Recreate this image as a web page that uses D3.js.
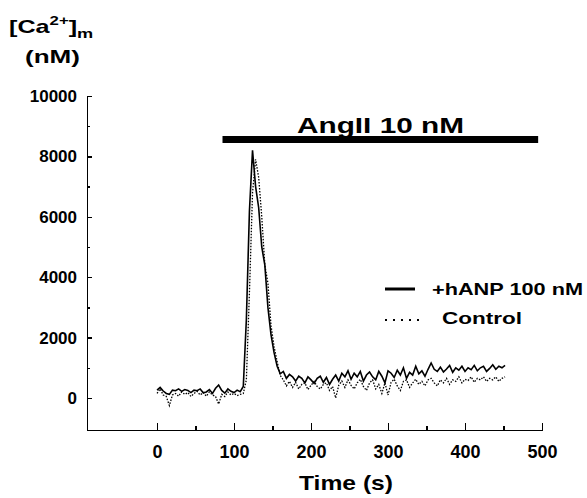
<html>
<head>
<title>Mitochondrial Ca2+ response to AngII</title>
<style>
body{
    margin: 0;
    background-color: #ffffff;
}
#chart{
    display: block;
}
.axis path, .axis line{
    stroke: #000;
    stroke-width: 1.4;
    shape-rendering: crispEdges;
}
.axis text{
    font-family: "Liberation Sans", Arial, sans-serif;
    font-weight: bold;
    font-size: 17px;
    fill: #000;
}
.xAxis text{
    font-size: 18px;
}
.lbl{
    font-family: "Liberation Sans", Arial, sans-serif;
    font-weight: bold;
    fill: #000;
}
</style>
</head>
<body>
<svg id="chart"></svg>
<script src="https://cdnjs.cloudflare.com/ajax/libs/d3/7.8.5/d3.min.js"></script>
<script>
// sample times (s)
var time = [0,4,8,12,16,20,24,28,32,36,40,44,48,52,56,60,64,68,72,76,80,84,88,92,96,100,
    104,108,112,116,120,124,128,132,136,140,144,148,152,156,160,164,168,172,176,180,184,188,192,196,200,
    204,208,212,216,220,224,228,232,236,240,244,248,252,256,260,264,268,272,276,280,284,288,292,296,300,
    304,308,312,316,320,324,328,332,336,340,344,348,352,356,360,364,368,372,376,380,384,388,392,396,400,
    404,408,412,416,420,424,428,432,436,440,444,448,452];

// +hANP 100 nM (nM)
var hanp = [260,350,230,150,120,260,240,300,220,280,250,180,260,240,300,170,200,280,150,320,430,250,160,300,220,180,
    260,210,380,2600,6200,8200,7000,6300,5000,4400,3000,2100,1500,1050,800,880,650,780,700,560,720,650,500,700,600,
    480,650,720,520,680,450,620,760,560,820,700,900,620,820,700,880,560,760,860,700,600,880,720,500,900,
    820,680,920,760,1000,650,850,760,1050,800,900,720,950,1160,950,880,1020,860,960,1080,850,1000,920,1050,880,
    1000,940,1080,900,1000,1050,880,980,1100,950,1050,1000,1080];

// Control (nM)
var control = [150,300,100,50,-250,100,150,60,200,120,180,50,150,220,100,180,60,200,100,50,-200,120,50,200,100,150,
    80,120,150,600,3500,6800,7900,7300,6000,4400,3800,2400,1700,1200,750,600,400,550,350,520,300,450,500,280,420,
    550,380,300,450,500,250,380,0,420,560,350,600,420,300,500,620,380,250,500,600,300,450,150,500,100,
    520,620,400,250,550,600,350,500,620,450,550,400,600,650,500,400,600,500,650,450,600,550,700,500,620,
    580,700,520,650,600,700,550,650,600,700,550,650,700];

var yMajor = [0,2000,4000,6000,8000,10000];
var yMinor = [1000,3000,5000,7000,9000];
var xMajor = [0,100,200,300,400,500];
var xMinor = [50,150,250,350,450];
var stimulus = [85,495];

var width = 587, height = 498;

var svg = d3.select("#chart")
    .attr("width", width)
    .attr("height", height);

var xscale = d3.scaleLinear().domain([-91, 500]).range([87, 542]);
var yscale = d3.scaleLinear().domain([-1060, 10000]).range([430, 96]);

// minor ticks first, then major ticks with labels
svg.append("g")
    .attr("class", "axis")
    .attr("transform", "translate(0,430)")
    .call(d3.axisBottom(xscale).tickValues(xMinor).tickSize(-4).tickFormat(""))
    .select(".domain").remove();
svg.append("g")
    .attr("class", "axis xAxis")
    .attr("transform", "translate(0,430)")
    .call(d3.axisBottom(xscale).tickValues(xMajor).tickSize(-7).tickSizeOuter(0).tickPadding(15).tickFormat(d3.format("d")));

svg.append("g")
    .attr("class", "axis")
    .attr("transform", "translate(87,0)")
    .call(d3.axisLeft(yscale).tickValues(yMinor).tickSize(-3).tickFormat(""))
    .select(".domain").remove();
svg.append("g")
    .attr("class", "axis")
    .attr("transform", "translate(87,0)")
    .call(d3.axisLeft(yscale).tickValues(yMajor).tickSize(-5).tickSizeOuter(0).tickPadding(10).tickFormat(d3.format("d")));

var line = d3.line()
    .x(function(d, i){ return xscale(time[i]); })
    .y(function(d){ return yscale(d); });

svg.append("path")
    .datum(control)
    .attr("d", line)
    .attr("fill", "none")
    .attr("stroke", "#000")
    .attr("stroke-width", 1.3)
    .attr("stroke-dasharray", "1.5,1.5");

svg.append("path")
    .datum(hanp)
    .attr("d", line)
    .attr("fill", "none")
    .attr("stroke", "#000")
    .attr("stroke-width", 1.6);

// AngII application bar
svg.append("rect")
    .attr("x", xscale(stimulus[0]))
    .attr("y", 136)
    .attr("width", xscale(stimulus[1]) - xscale(stimulus[0]))
    .attr("height", 7)
    .attr("fill", "#000");
svg.append("text")
    .attr("class", "lbl")
    .attr("x", 297)
    .attr("y", 133)
    .attr("font-size", "22px")
    .attr("textLength", 167)
    .attr("lengthAdjust", "spacingAndGlyphs")
    .text("AngII 10 nM");

// legend
svg.append("line")
    .attr("x1", 385).attr("x2", 415)
    .attr("y1", 289).attr("y2", 289)
    .attr("stroke", "#000")
    .attr("stroke-width", 3);
svg.append("text")
    .attr("class", "lbl")
    .attr("x", 432).attr("y", 295)
    .attr("font-size", "17px")
    .attr("textLength", 151)
    .attr("lengthAdjust", "spacingAndGlyphs")
    .text("+hANP 100 nM");
svg.append("line")
    .attr("x1", 385).attr("x2", 419)
    .attr("y1", 320).attr("y2", 320)
    .attr("stroke", "#000")
    .attr("stroke-width", 2)
    .attr("stroke-dasharray", "2,6");
svg.append("text")
    .attr("class", "lbl")
    .attr("x", 442).attr("y", 324)
    .attr("font-size", "17px")
    .attr("textLength", 80)
    .attr("lengthAdjust", "spacingAndGlyphs")
    .text("Control");

// axis titles
svg.append("text")
    .attr("class", "lbl")
    .attr("x", 346).attr("y", 490)
    .attr("text-anchor", "middle")
    .attr("font-size", "21px")
    .attr("textLength", 94)
    .attr("lengthAdjust", "spacingAndGlyphs")
    .text("Time (s)");

var yt = svg.append("text")
    .attr("class", "lbl")
    .attr("transform", "translate(9,33) scale(1.4,1)")
    .attr("font-size", "18px");
yt.append("tspan").text("[Ca");
yt.append("tspan").attr("font-size", "12px").attr("dy", -8).text("2+");
yt.append("tspan").attr("dy", 8).text("]");
yt.append("tspan").attr("font-size", "13px").attr("dy", 5).text("m");
svg.append("text")
    .attr("class", "lbl")
    .attr("x", 25).attr("y", 63)
    .attr("font-size", "19px")
    .attr("textLength", 55)
    .attr("lengthAdjust", "spacingAndGlyphs")
    .text("(nM)");
</script>
</body>
</html>
